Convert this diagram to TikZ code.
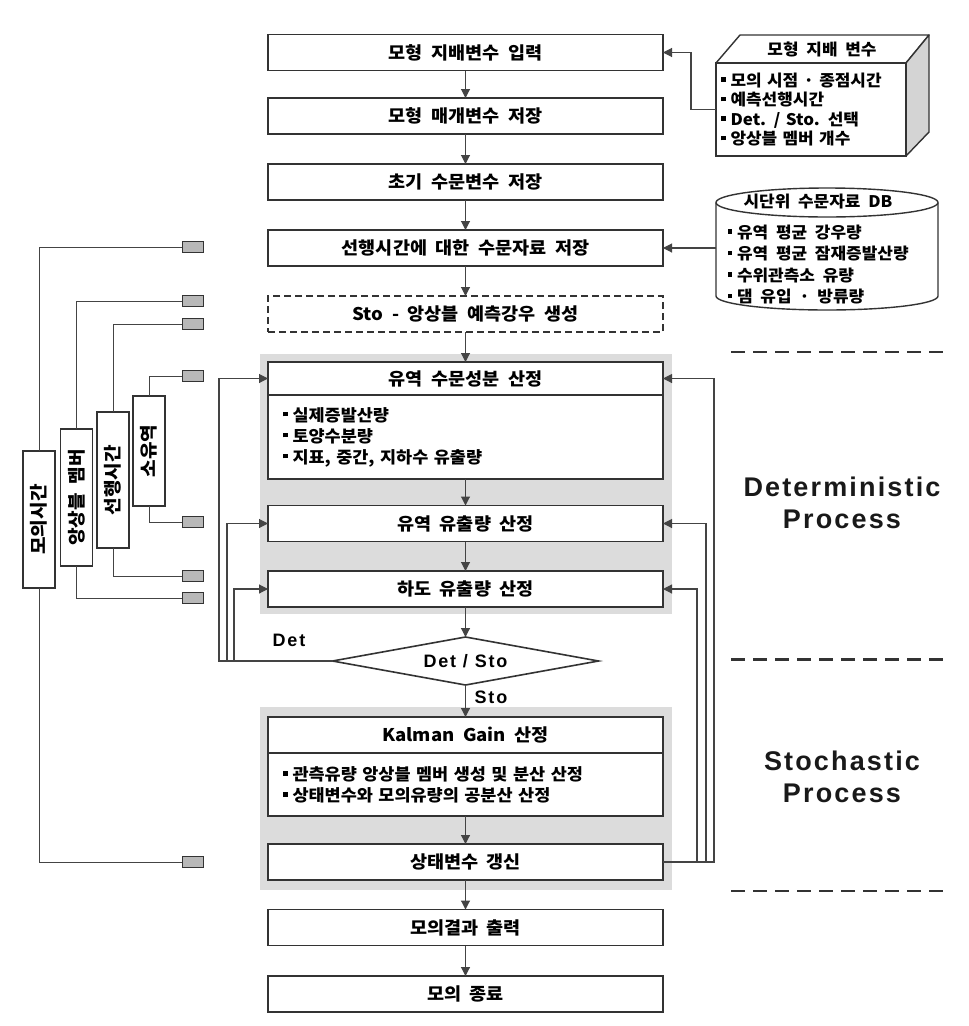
\documentclass[tikz,border=0pt]{standalone}
\usepackage{fontspec}
\usetikzlibrary{arrows.meta,shapes.geometric}
\newfontfamily\kr{Noto Sans CJK KR}[FakeStretch=1.06,WordSpace=2]
\newfontfamily\lat{Liberation Sans}[LetterSpace=10]
\newfontfamily\latb{Liberation Sans}[LetterSpace=8]
\newcommand{\bul}{\raisebox{0.28em}{\rule{4.5pt}{4.5pt}}\hspace{5pt}}
\definecolor{ln}{HTML}{444444}
\definecolor{bx}{HTML}{333333}
\definecolor{shd}{HTML}{DCDCDC}
\definecolor{smallg}{HTML}{B8B8B8}
\definecolor{side}{HTML}{D4D4D4}
\begin{document}
\begin{tikzpicture}[x=1pt,y=-1pt,
  kfont/.style={font=\kr\bfseries\fontsize{17.5}{21}\selectfont},
  bfont/.style={font=\kr\bfseries\fontsize{16.5}{21}\selectfont},
  sfont/.style={font=\kr\bfseries\fontsize{16}{19.5}\selectfont},
  box/.style={draw=bx,line width=1.6pt,fill=white,minimum width=395pt,minimum height=36pt,inner sep=0pt,outer sep=0pt,kfont},
  bodybox/.style={draw=bx,line width=1.6pt,fill=white,text width=365pt,inner xsep=15pt,inner ysep=0pt,outer sep=0pt,align=left,bfont},
  arr/.style={draw=ln,line width=1.1pt,-{Triangle[length=9pt,width=9pt]}},
  lnk/.style={draw=ln,line width=1pt},
  smallbox/.style={draw=bx,fill=smallg,line width=1pt,minimum width=21pt,minimum height=11pt,inner sep=0pt,outer sep=0pt},
  vlab/.style={draw=bx,line width=1.4pt,fill=white,minimum height=32pt,inner sep=0pt,outer sep=0pt,rotate=90,font=\kr\bfseries\fontsize{18}{21}\selectfont},
  sepline/.style={draw=bx,line width=2.5pt,dash pattern=on 14pt off 8pt},
  plabel/.style={font=\latb\bfseries\fontsize{27}{32}\selectfont,align=center,text=black!90}
]
\useasboundingbox[fill=white] (0,0) rectangle (969,1026);

% shaded regions
\fill[shd] (260,354) rectangle (672,614);
\fill[shd] (260,707) rectangle (672,890);

% main boxes
\node[box] (b1) at (465.5,52.5) {모형 지배변수 입력};
\node[box] (b2) at (465.5,116) {모형 매개변수 저장};
\node[box] (b3) at (465.5,182) {초기 수문변수 저장};
\node[box] (b4) at (465.5,248) {선행시간에 대한 수문자료 저장};
\node[box,dash pattern=on 7pt off 4pt] (b5) at (465.5,314) {Sto - 앙상블 예측강우 생성};
\node[box,minimum height=33pt] (b6h) at (465.5,378.5) {유역 수문성분 산정};
\node[bodybox,minimum height=84pt,anchor=north] (b6b) at (b6h.south) {\bul 실제증발산량\\ \bul 토양수분량\\ \bul 지표, 중간, 지하수 유출량};
\node[box] (b7) at (465.5,523.5) {유역 유출량 산정};
\node[box] (b8) at (465.5,589) {하도 유출량 산정};
\node[diamond,draw=bx,line width=1.6pt,fill=white,aspect=5.5,minimum width=266pt,minimum height=48pt,inner sep=0pt,outer sep=0pt,font=\lat\bfseries\fontsize{18}{20}\selectfont] (dm) at (465.5,661) {Det / Sto};
\node[box] (kh) at (465.5,735) {Kalman Gain 산정};
\node[bodybox,minimum height=63pt,anchor=north] (kb) at (kh.south) {\bul 관측유량 앙상블 멤버 생성 및 분산 산정\\ \bul 상태변수와 모의유량의 공분산 산정};
\node[box] (sv) at (465.5,862) {상태변수 갱신};
\node[box] (out) at (465.5,927.5) {모의결과 출력};
\node[box] (fin) at (465.5,994) {모의 종료};

% main flow arrows
\draw[arr] (b1) -- (b2);
\draw[arr] (b2) -- (b3);
\draw[arr] (b3) -- (b4);
\draw[arr] (b4) -- (b5);
\draw[arr] (b5) -- (b6h);
\draw[arr] (b6b) -- (b7);
\draw[arr] (b7) -- (b8);
\draw[arr] (b8) -- (dm);
\draw[arr] (dm) -- (kh);
\draw[arr] (kb) -- (sv);
\draw[arr] (sv) -- (out);
\draw[arr] (out) -- (fin);

\node[font=\lat\bfseries\fontsize{18}{20}\selectfont] (detl) at (289,640) {Det};
\node[font=\lat\bfseries\fontsize{18}{20}\selectfont] (stol) at (491,697) {Sto};

% right feedback loops
\coordinate (r1) at (714,862);
\coordinate (r2) at (706,862);
\coordinate (r3) at (697,862);
\draw[arr] (sv.east) -- (r1) |- (b6h.east);
\draw[arr] (sv.east) -- (r2) |- (b7.east);
\draw[arr] (sv.east) -- (r3) |- (b8.east);

% left Det loops
\coordinate (l1) at (219,661);
\coordinate (l2) at (227,661);
\coordinate (l3) at (234,661);
\draw[arr] (dm.west) -- (l1) |- (b6h.west);
\draw[arr] (dm.west) -- (l2) |- (b7.west);
\draw[arr] (dm.west) -- (l3) |- (b8.west);

% governing variables 3D box
\filldraw[fill=white,draw=bx,line width=1.4pt,line join=round] (716,63) -- (740,35) -- (929,35) -- (906,63) -- cycle;
\filldraw[fill=side,draw=bx,line width=1.4pt,line join=round] (906,63) -- (929,35) -- (929,132) -- (906,156) -- cycle;
\node[draw=bx,line width=1.4pt,fill=white,minimum width=190pt,minimum height=93pt,text width=180pt,inner xsep=5pt,inner ysep=0pt,outer sep=0pt,align=left,sfont] (gov) at (811,109.5) {\bul 모의 시점 · 종점시간\\ \bul 예측선행시간\\ \bul Det. / Sto. 선택\\ \bul 앙상블 멤버 개수};
\node[sfont] (govt) at (822,49) {모형 지배 변수};
\coordinate (g1) at (691,109.5);
\draw[arr] (gov.west) -- (g1) |- (b1.east);

% database cylinder
\filldraw[fill=white,draw=bx,line width=1.4pt] (716,202.5) -- (716,296) arc[start angle=180,end angle=360,x radius=111pt,y radius=14pt] -- (938,202.5) arc[start angle=0,end angle=180,x radius=111pt,y radius=14.5pt] -- cycle;
\draw[draw=bx,line width=1.4pt] (716,202.5) arc[start angle=180,end angle=360,x radius=111pt,y radius=14.5pt];
\node[sfont] (dbt) at (818,202) {시단위 수문자료 DB};
\node[align=left,anchor=west,font=\kr\bfseries\fontsize{16}{21.5}\selectfont] (dbi) at (724,264.5) {\bul 유역 평균 강우량\\ \bul 유역 평균 잠재증발산량\\ \bul 수위관측소 유량\\ \bul 댐 유입 · 방류량};
\coordinate (db) at (716,248);
\draw[arr] (db) -- (b4.east);

% left side time-loop labels
\node[smallbox] (p1) at (192.5,247) {};
\node[smallbox] (p2) at (192.5,301) {};
\node[smallbox] (p3) at (192.5,324) {};
\node[smallbox] (p4) at (192.5,376) {};
\node[smallbox] (p5) at (192.5,522) {};
\node[smallbox] (p6) at (192.5,576) {};
\node[smallbox] (p7) at (192.5,598) {};
\node[smallbox] (p8) at (192.5,862) {};

\node[vlab,minimum width=137pt] (t1) at (39,519.5) {모의시간};
\node[vlab,minimum width=137pt] (t2) at (76.5,497.5) {앙상블 멤버};
\node[vlab,minimum width=136pt] (t3) at (113,480) {선행시간};
\node[vlab,minimum width=110pt] (t4) at (149,451) {소유역};

\draw[lnk] (t1.east) |- (p1.west);
\draw[lnk] (t1.west) |- (p8.west);
\draw[lnk] (t2.east) |- (p2.west);
\draw[lnk] (t2.west) |- (p7.west);
\draw[lnk] (t3.east) |- (p3.west);
\draw[lnk] (t3.west) |- (p6.west);
\draw[lnk] (t4.east) |- (p4.west);
\draw[lnk] (t4.west) |- (p5.west);

% process separators and labels
\draw[sepline] (731,352) -- (948,352);
\draw[sepline] (731,659.5) -- (948,659.5);
\draw[sepline] (731,891) -- (948,891);
\node[plabel] (detp) at (842,503) {Deterministic\\Process};
\node[plabel] (stop) at (842,777) {Stochastic\\Process};
\end{tikzpicture}
\end{document}
